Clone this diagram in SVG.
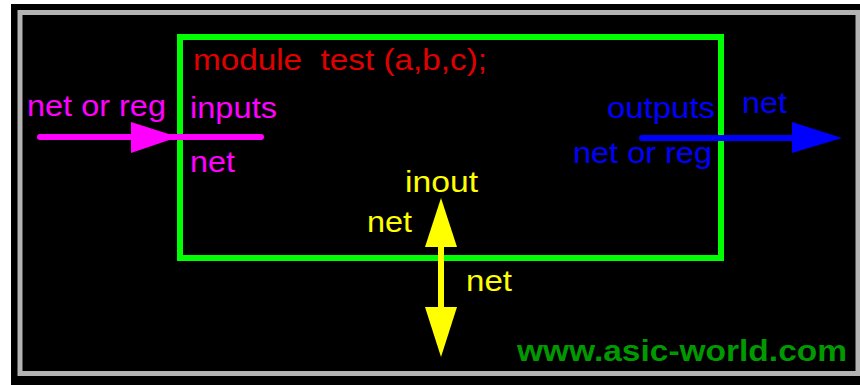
<svg xmlns="http://www.w3.org/2000/svg" width="860" height="385" viewBox="0 0 860 385">
  <style>
    text { font-family: "Liberation Sans", Arial, sans-serif; font-size: 29px; }
    .red { fill: #e00000; }
    .mag { fill: #ff00ff; }
    .blue { fill: #0000ff; }
    .yel { fill: #ffff00; }
    .site { fill: #009a00; font-weight: bold; }
    .wire { stroke-width: 6; stroke-linecap: round; fill: none; }
  </style>

  <!-- page background and frame -->
  <rect x="0" y="0" width="860" height="385" fill="#ffffff"/>
  <rect x="11" y="4" width="849" height="381" fill="#000000"/>
  <rect x="20" y="12.5" width="838" height="361" fill="none" stroke="#b4b4b4" stroke-width="5"/>

  <!-- module body -->
  <g id="module">
    <rect x="180" y="37" width="541" height="221" fill="none" stroke="#00ff00" stroke-width="6"/>
    <text class="red" x="193" y="70" textLength="294" lengthAdjust="spacingAndGlyphs" xml:space="preserve">module  test (a,b,c);</text>
  </g>

  <!-- input port -->
  <g id="input-port">
    <text class="mag" x="27" y="116" textLength="139" lengthAdjust="spacingAndGlyphs">net or reg</text>
    <text class="mag" x="190" y="118" textLength="87" lengthAdjust="spacingAndGlyphs">inputs</text>
    <text class="mag" x="190" y="172" textLength="45" lengthAdjust="spacingAndGlyphs">net</text>
  </g>

  <!-- output port -->
  <g id="output-port">
    <text class="blue" x="607" y="118" textLength="108" lengthAdjust="spacingAndGlyphs">outputs</text>
    <text class="blue" x="573" y="163" textLength="139" lengthAdjust="spacingAndGlyphs">net or reg</text>
    <text class="blue" x="742" y="113" textLength="45" lengthAdjust="spacingAndGlyphs">net</text>
  </g>

  <!-- inout port -->
  <g id="inout-port">
    <text class="yel" x="405" y="192" textLength="73" lengthAdjust="spacingAndGlyphs">inout</text>
    <text class="yel" x="367" y="232" textLength="45" lengthAdjust="spacingAndGlyphs">net</text>
    <text class="yel" x="466" y="291" textLength="46" lengthAdjust="spacingAndGlyphs">net</text>
  </g>

  <!-- port connectors -->
  <g id="connectors">
    <line class="wire" x1="40" y1="137" x2="261" y2="137" stroke="#ff00ff"/>
    <polygon points="131,122 178,137 131,153" fill="#ff00ff"/>

    <line class="wire" x1="642" y1="138" x2="795" y2="138" stroke="#0000ff"/>
    <polygon points="792,122 842,138 792,153" fill="#0000ff"/>

    <line class="wire" x1="441" y1="240" x2="441" y2="312" stroke="#ffff00" stroke-linecap="butt"/>
    <polygon points="441,198 457,247 425,247" fill="#ffff00"/>
    <polygon points="425,307 457,307 441,357" fill="#ffff00"/>
  </g>

  <text class="site" x="517" y="361" textLength="330" lengthAdjust="spacingAndGlyphs">www.asic-world.com</text>
</svg>
